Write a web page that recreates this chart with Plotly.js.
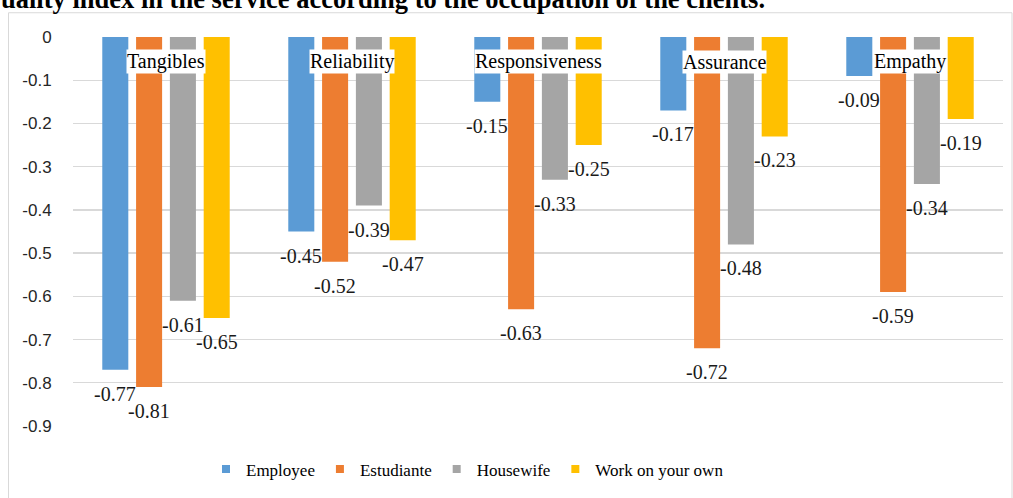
<!DOCTYPE html>
<html>
<head>
<meta charset="utf-8">
<script src="https://cdn.plot.ly/plotly-3.0.1.min.js"></script>
<style>
  html, body { margin: 0; padding: 0; background: #ffffff; }
  #chart { width: 1013px; height: 498px; }
</style>
</head>
<body>
<div id="chart"></div>
<script>
// ---- data ----
const categories = ["Tangibles", "Reliability", "Responsiveness", "Assurance", "Empathy"];
const seriesNames = ["Employee", "Estudiante", "Housewife", "Work on your own"];
const employee   = [-0.77, -0.45, -0.15, -0.17, -0.09];
const estudiante = [-0.81, -0.52, -0.63, -0.72, -0.59];
const housewife  = [-0.61, -0.39, -0.33, -0.48, -0.34];
const workOwn    = [-0.65, -0.47, -0.25, -0.23, -0.19];
const yTickVals  = [0, -0.1, -0.2, -0.3, -0.4, -0.5, -0.6, -0.7, -0.8, -0.9];
const yTickText  = ["0", "-0.1", "-0.2", "-0.3", "-0.4", "-0.5", "-0.6", "-0.7", "-0.8", "-0.9"];
const titleText  = "uality index in the service according to the occupation of the clients.";

// ---- style ----
const colors = ["#5B9BD5", "#ED7D31", "#A5A5A5", "#FFC000"];
const seriesValues = [employee, estudiante, housewife, workOwn];
const W = 1013, H = 498;
const M = { l: 73, r: 10, t: 37, b: 68 };
const plotW = W - M.l - M.r, plotH = H - M.t - M.b;
const bargap = 0.273, bargroupgap = 0.23;
const serif = "Liberation Serif";
const px2x = px => (px - M.l) / plotW;
const px2y = py => (H - M.b - py) / plotH;

const traces = seriesValues.map((vals, i) => ({
  type: "bar",
  name: seriesNames[i],
  x: categories,
  y: vals,
  marker: { color: colors[i] },
  showlegend: false,
  hoverinfo: "x+y+name"
}));
// legend-only entries with small square symbols
seriesNames.forEach((n, i) => traces.push({
  type: "scatter", mode: "markers", name: n,
  x: [categories[0]], y: [null],
  marker: { symbol: "square", size: 8, color: colors[i] },
  hoverinfo: "skip"
}));

const catW = plotW / categories.length;
const slot = catW * (1 - bargap) / seriesNames.length;
const annotations = [];
seriesValues.forEach((vals, i) => {
  const shift = (i - (seriesNames.length - 1) / 2) * slot;
  vals.forEach((v, j) => annotations.push({
    x: categories[j], y: v, xref: "x", yref: "y",
    text: v.toFixed(2), showarrow: false,
    xshift: shift, yshift: -24, yanchor: "middle",
    font: { family: serif, size: 20, color: "#1a1a1a" }
  }));
});
categories.forEach(c => annotations.push({
  x: c, y: -0.057, xref: "x", yref: "y",
  text: c, showarrow: false, yanchor: "middle",
  bgcolor: "#ffffff", borderpad: 0,
  font: { family: serif, size: 20, color: "#000000" }
}));
annotations.push({
  x: px2x(-1), y: px2y(-1), xref: "paper", yref: "paper",
  xanchor: "left", yanchor: "middle", showarrow: false,
  text: "<b>" + titleText + "</b>",
  font: { family: serif, size: 26.5, color: "#000000" }
});

const layout = {
  width: W, height: H,
  margin: M,
  font: { family: serif, color: "#000000" },
  paper_bgcolor: "#ffffff", plot_bgcolor: "#ffffff",
  barmode: "group", bargap: bargap, bargroupgap: bargroupgap,
  xaxis: { type: "category", showticklabels: false, showgrid: false, zeroline: false, showline: false, fixedrange: true },
  yaxis: {
    range: [-0.9, 0], tickvals: yTickVals, ticktext: yTickText,
    showgrid: true, gridcolor: "#D9D9D9", gridwidth: 1.3, zeroline: false, showline: false,
    ticks: "outside", ticklen: 17, tickcolor: "rgba(0,0,0,0)",
    tickfont: { family: "Liberation Sans", size: 17, color: "#262626" }
  },
  legend: {
    orientation: "h", x: px2x(206), xanchor: "left", y: px2y(474), yanchor: "middle",
    font: { family: serif, size: 17, color: "#000000" }, bgcolor: "rgba(0,0,0,0)"
  },
  shapes: [{
    type: "rect", xref: "paper", yref: "paper",
    x0: px2x(8.5), x1: px2x(1012), y0: px2y(520), y1: px2y(12.5),
    line: { color: "#D9D9D9", width: 1 }, fillcolor: "rgba(0,0,0,0)", layer: "below"
  }],
  annotations: annotations,
  showlegend: true
};

Plotly.newPlot("chart", traces, layout, { displayModeBar: false, staticPlot: true });
</script>
</body>
</html>
